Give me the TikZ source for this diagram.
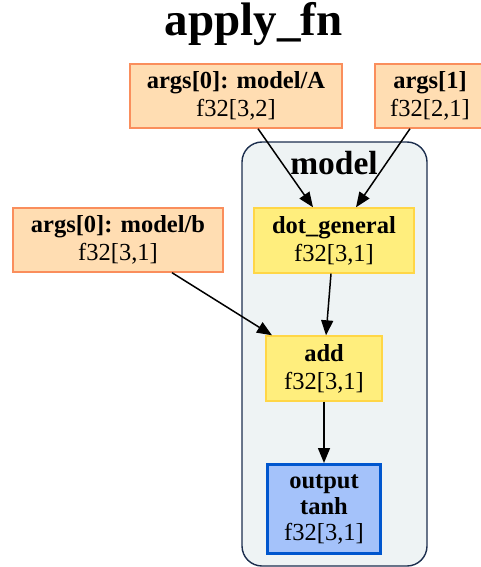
\documentclass[tikz,border=0pt]{standalone}
\usepackage{fontspec}
\setmainfont{Liberation Serif}
\usetikzlibrary{arrows.meta}

\definecolor{argfill}{RGB}{255,221,178}
\definecolor{argline}{RGB}{250,142,92}
\definecolor{opfill}{RGB}{255,238,125}
\definecolor{opline}{RGB}{255,214,70}
\definecolor{outfill}{RGB}{164,194,250}
\definecolor{outline}{RGB}{0,86,206}
\definecolor{clusterfill}{RGB}{238,243,244}
\definecolor{clusterline}{RGB}{28,46,78}

\tikzset{
  box/.style={draw, line width=1.4pt, rectangle, inner sep=0pt, align=center,
    font=\fontsize{24.5pt}{28pt}\selectfont},
  argbox/.style={box, fill=argfill, draw=argline},
  opbox/.style={box, fill=opfill, draw=opline},
  outbox/.style={box, fill=outfill, draw=outline, line width=3pt,
    font=\fontsize{24.5pt}{26pt}\selectfont},
  edge/.style={line width=1.5pt, -{Triangle[length=15pt,width=12pt]}},
}

\begin{document}
\begin{tikzpicture}[x=1pt,y=-1pt]
\useasboundingbox (0,0) rectangle (480,567);

% title
\node[font=\fontsize{47pt}{50pt}\selectfont\bfseries] (title) at (253.5,24) {apply\_fn};

% cluster "model"
\draw[fill=clusterfill, draw=clusterline, line width=1.4pt, rounded corners=20pt]
  (242,142) rectangle (427,566);
\node[font=\fontsize{33.5pt}{36pt}\selectfont\bfseries] (clabel) at (334,163) {model};

% inputs
\node[argbox, minimum width=212pt, minimum height=64pt] (A) at (236,96)
  {\textbf{args[0]: model/A}\\f32[3,2]};
\node[argbox, minimum width=110pt, minimum height=64pt] (B) at (430,96)
  {\textbf{args[1]}\\f32[2,1]};
\node[argbox, minimum width=210pt, minimum height=64pt] (C) at (118,240)
  {\textbf{args[0]: model/b}\\f32[3,1]};

% operations
\node[opbox, minimum width=160pt, minimum height=65pt] (dot) at (334,240.5)
  {\textbf{dot\_general}\\f32[3,1]};
\node[opbox, minimum width=116pt, minimum height=65pt] (add) at (324,368.5)
  {\textbf{add}\\f32[3,1]};
\node[outbox, minimum width=113pt, minimum height=89pt] (out) at (324,509)
  {\textbf{output}\\\textbf{tanh}\\f32[3,1]};

% data flow
\draw[edge] ([xshift=22pt]A.south) -- ([xshift=-21pt]dot.north);
\draw[edge] ([xshift=-20pt]B.south) -- ([xshift=22pt]dot.north);
\draw[edge] ([xshift=54pt]C.south) -- ([xshift=-52pt]add.north);
\draw[edge] ([xshift=-3pt]dot.south) -- ([xshift=2pt]add.north);
\draw[edge] (add.south) -- (out.north);
\end{tikzpicture}
\end{document}
